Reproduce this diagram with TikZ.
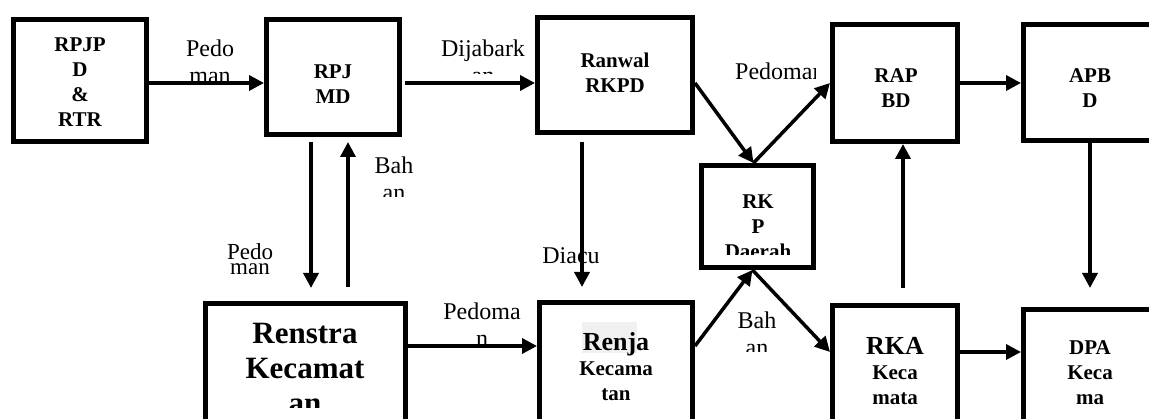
\documentclass[tikz,border=0pt]{standalone}
\usepackage{fontspec}
\setmainfont{Liberation Serif}
\usetikzlibrary{arrows.meta}
\definecolor{hlgray}{gray}{0.94}
\tikzset{
  box/.style={draw, line width=5pt, inner sep=0pt},
  boxtext/.style={font=\bfseries\fontsize{21}{25}\selectfont, align=center, inner sep=0pt, anchor=north},
  lab/.style={font=\fontsize{24}{27}\selectfont, align=center, inner sep=0pt, anchor=north},
  arr/.style={-{Triangle[length=15pt,width=15pt]}, line width=3.5pt},
}
\begin{document}
\begin{tikzpicture}[x=1pt, y=-1pt]
    \clip (0,0) rectangle (1149,419);

    % boxes
    \node[box, minimum width=133pt, minimum height=122pt] (rpjpd) at (80,80.5) {};
    \node[box, minimum width=133pt, minimum height=115pt] (rpjmd) at (333,77) {};
    \node[box, minimum width=155pt, minimum height=115pt] (ranwal) at (615,75) {};
    \node[box, minimum width=112pt, minimum height=102pt] (rkp) at (757.5,216.5) {};
    \node[box, minimum width=125pt, minimum height=117pt] (rapbd) at (895,83) {};
    \node[box, minimum width=133pt, minimum height=116pt] (apbd) at (1090,82.5) {};
    \node[box, minimum width=200pt, minimum height=140pt] (renstra) at (305.5,373.5) {};
    \node[box, minimum width=153pt, minimum height=140pt] (renja) at (616,372.5) {};
    \node[box, minimum width=125pt, minimum height=140pt] (rka) at (895,375.5) {};
    \node[box, minimum width=133pt, minimum height=140pt] (dpa) at (1090,379.5) {};

    % box texts
    \node[boxtext] (rpjpdtext) at (80,38) {RPJP\\D\\\&\\RTR};
    \node[boxtext] (rpjmdtext) at (333,65) {RPJ\\MD};
    \node[boxtext] (ranwaltext) at (615,53) {Ranwal\\RKPD};
    \node[boxtext] (rapbdtext) at (896,68) {RAP\\BD};
    \node[boxtext] (apbdtext) at (1090,68) {APB\\D};
    \begin{scope}
        \clip (700,160) rectangle (815,255);
        \node[boxtext] (rkptext) at (758,195) {RK\\P\\Daerah};
    \end{scope}
    \begin{scope}
        \clip (205,300) rectangle (405,408);
        \node[boxtext, font=\bfseries\fontsize{31}{35}\selectfont] (renstratext) at (305,323) {Renstra\\Kecamat\\an};
    \end{scope}
    \fill[hlgray] (582,322) rectangle (637,353);
    \node[boxtext] (renjatext) at (616,332) {{\fontsize{26}{25}\selectfont Renja}\\Kecama\\tan};
    \node[boxtext] (rkatext) at (895,337) {{\fontsize{26}{25}\selectfont RKA}\\Keca\\mata};
    \begin{scope}
        \clip (1020,300) rectangle (1160,415);
        \node[boxtext] (dpatext) at (1090,340) {DPA\\Keca\\ma\\tan};
    \end{scope}

    % labels
    \begin{scope}
        \clip (150,0) rectangle (262,81);
        \node[lab] (pedoA) at (210,40) {Pedo\\man};
    \end{scope}
    \begin{scope}
        \clip (420,0) rectangle (533,74);
        \node[lab] (dijabarkan) at (483,40) {Dijabark\\an};
    \end{scope}
    \begin{scope}
        \clip (700,40) rectangle (815,100);
        \node[lab, anchor=north west] (pedomanA) at (735,63) {Pedoman};
    \end{scope}
    \begin{scope}
        \clip (350,140) rectangle (450,197);
        \node[lab] (bahanA) at (394,157) {Bah\\an};
    \end{scope}
    \node[lab, font=\fontsize{23}{15}\selectfont] (pedoB) at (250,243) {Pedo\\man};
    \node[lab] (diacu) at (571,247) {Diacu};
    \begin{scope}
        \clip (420,290) rectangle (535,344);
        \node[lab] (pedomaB) at (482,303) {Pedoma\\n};
    \end{scope}
    \begin{scope}
        \clip (715,300) rectangle (800,352);
        \node[lab] (bahanB) at (757,312) {Bah\\an};
    \end{scope}

    % connectors
    \coordinate (toprow) at (0,83);
    \coordinate (botrow) at (0,346);
    \coordinate (botrowb) at (0,352);
    \draw[arr] (rpjpd.east |- toprow) -- (rpjmd.west |- toprow);
    \draw[arr, shorten <=3pt] (rpjmd.east |- toprow) -- (ranwal.west |- toprow);
    \draw[arr] (ranwal.east |- toprow) -- ([xshift=-4pt]rkp.north);
    \draw[arr] ([xshift=-4pt]rkp.north) -- (rapbd.west |- toprow);
    \draw[arr] (rapbd.east |- toprow) -- (apbd.west |- toprow);
    \draw[arr, shorten <=5pt, shorten >=13pt] ([xshift=-22pt]rpjmd.south) -- ([xshift=-22pt]rpjmd.south |- renstra.north);
    \draw[arr, shorten <=14pt, shorten >=5pt] ([xshift=15pt]rpjmd.south |- renstra.north) -- ([xshift=15pt]rpjmd.south);
    \draw[arr, shorten <=7pt, shorten >=13pt] ([xshift=-33pt]ranwal.south) -- ([xshift=-33pt]ranwal.south |- renja.north);
    \draw[arr] (renstra.east |- botrow) -- (renja.west |- botrow);
    \draw[arr] (renja.east |- botrow) -- ([xshift=-5pt]rkp.south);
    \draw[arr] ([xshift=-5pt]rkp.south) -- (rka.west |- botrowb);
    \draw[arr, shorten <=15pt] ([xshift=8pt]rka.north) -- ([xshift=8pt]rka.north |- rapbd.south);
    \draw[arr, shorten >=19pt] (apbd.south) -- (apbd.south |- dpa.north);
    \draw[arr] (rka.east |- botrowb) -- (dpa.west |- botrowb);
\end{tikzpicture}
\end{document}
